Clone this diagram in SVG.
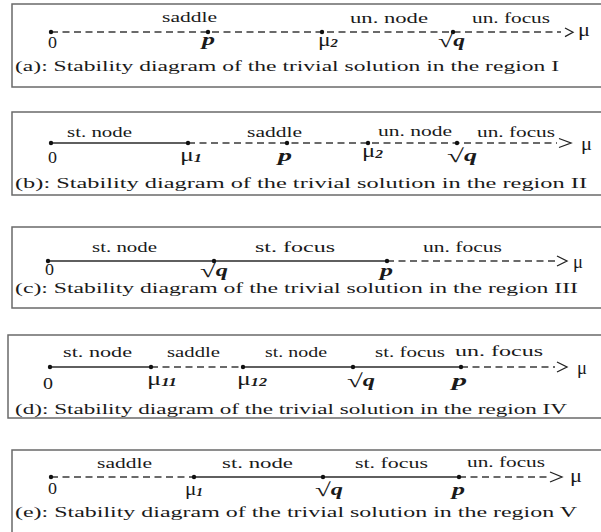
<svg xmlns="http://www.w3.org/2000/svg" width="601" height="532" viewBox="0 0 601 532">
<style>
.bg{fill:#fff}
.box{fill:none;stroke:#6a6a6a;stroke-width:1.5}
.sol{stroke:#2a2a2a;stroke-width:1.4;fill:none}
.dsh{stroke:#3a3a3a;stroke-width:1.4;stroke-dasharray:7 4.5;fill:none}
.arr{stroke:#222;stroke-width:1.3;fill:none}
.dot{fill:#111}
text{font-family:"Liberation Serif","Times New Roman",serif;fill:#1a1a1a}
.lb{font-size:14px}
.pt{font-size:16px}
.mu{font-size:19px}
.cap{font-size:15px}
.bi{font-weight:bold;font-style:italic;font-size:16px}
.sub{font-size:12px;font-weight:bold;font-style:italic}
.rad{font-size:19px}
.ax{font-size:18px}
</style>
<rect class="bg" x="0" y="0" width="601" height="532"/>

<g id="connectors">
  <path class="dsh" d="M51 32H561"/>
  <path class="arr" d="M565 28L573 32.3L565 36.6"/>
  <path class="sol" d="M51 143H188"/>
  <path class="dsh" d="M188 143H557"/>
  <path class="arr" d="M559 138.5L571 143L559 147.5"/>
  <path class="sol" d="M48 261H387"/>
  <path class="dsh" d="M387 261H556"/>
  <path class="arr" d="M557 256L567 261L557 266"/>
  <path class="sol" d="M50 367H151"/>
  <path class="dsh" d="M151 367H243"/>
  <path class="sol" d="M243 367H461"/>
  <path class="dsh" d="M461 367H555"/>
  <path class="arr" d="M557 362L567 367L557 372"/>
  <path class="dsh" d="M51 477H194"/>
  <path class="sol" d="M194 477H459"/>
  <path class="dsh" d="M459 477H548"/>
  <path class="arr" d="M550 472L562 477L550 482"/>
</g>

<g id="panel-a">
  <rect class="box" x="12" y="4" width="600" height="83"/>
  <text class="lb" x="162" y="22" textLength="55" lengthAdjust="spacingAndGlyphs">saddle</text>
  <text class="lb" x="350" y="22.5" textLength="78" lengthAdjust="spacingAndGlyphs">un. node</text>
  <text class="lb" x="472" y="22.5" textLength="78" lengthAdjust="spacingAndGlyphs">un. focus</text>
  <g id="a-0"><circle class="dot" cx="51" cy="32" r="2.2"/><text class="pt" x="48" y="48" textLength="9" lengthAdjust="spacingAndGlyphs">0</text></g>
  <g id="a-p"><circle class="dot" cx="208" cy="32" r="2.2"/><text class="bi" x="202" y="45" textLength="13" lengthAdjust="spacingAndGlyphs">p</text></g>
  <g id="a-mu2"><circle class="dot" cx="322" cy="32" r="2.2"/><text class="mu" x="318" y="46" textLength="20" lengthAdjust="spacingAndGlyphs">μ<tspan class="sub" dy="1">2</tspan></text></g>
  <g id="a-sqrtq"><circle class="dot" cx="453" cy="32" r="2.2"/><text class="rad" x="438" y="47" textLength="27" lengthAdjust="spacingAndGlyphs">√<tspan class="bi" dy="-1">q</tspan></text></g>
  <text class="ax" x="578" y="36" textLength="12" lengthAdjust="spacingAndGlyphs">μ</text>
  <text class="cap" x="15" y="71" textLength="544" lengthAdjust="spacingAndGlyphs">(a): Stability diagram of the trivial solution in the region I</text>
</g>

<g id="panel-b">
  <rect class="box" x="12" y="112" width="600" height="83"/>
  <text class="lb" x="67" y="137" textLength="65" lengthAdjust="spacingAndGlyphs">st. node</text>
  <text class="lb" x="247" y="137" textLength="55" lengthAdjust="spacingAndGlyphs">saddle</text>
  <text class="lb" x="378" y="135.5" textLength="74" lengthAdjust="spacingAndGlyphs">un. node</text>
  <text class="lb" x="477" y="136.5" textLength="78" lengthAdjust="spacingAndGlyphs">un. focus</text>
  <g id="b-0"><circle class="dot" cx="51" cy="143" r="2.2"/><text class="pt" x="48" y="163" textLength="9" lengthAdjust="spacingAndGlyphs">0</text></g>
  <g id="b-mu1"><circle class="dot" cx="188" cy="143" r="2.2"/><text class="mu" x="180" y="161" textLength="22" lengthAdjust="spacingAndGlyphs">μ<tspan class="sub" dy="1">1</tspan></text></g>
  <g id="b-p"><circle class="dot" cx="287" cy="143" r="2.2"/><text class="bi" x="278" y="161" textLength="14" lengthAdjust="spacingAndGlyphs">p</text></g>
  <g id="b-mu2"><circle class="dot" cx="368" cy="143" r="2.2"/><text class="mu" x="362" y="157" textLength="21" lengthAdjust="spacingAndGlyphs">μ<tspan class="sub" dy="1">2</tspan></text></g>
  <g id="b-sqrtq"><circle class="dot" cx="457" cy="143" r="2.2"/><text class="rad" x="447" y="162" textLength="30" lengthAdjust="spacingAndGlyphs">√<tspan class="bi" dy="-1">q</tspan></text></g>
  <text class="ax" x="581" y="150" textLength="11" lengthAdjust="spacingAndGlyphs">μ</text>
  <text class="cap" x="15" y="188" textLength="572" lengthAdjust="spacingAndGlyphs">(b): Stability diagram of the trivial solution in the region II</text>
</g>

<g id="panel-c">
  <rect class="box" x="12" y="227" width="600" height="81"/>
  <text class="lb" x="92" y="252" textLength="65" lengthAdjust="spacingAndGlyphs">st. node</text>
  <text class="lb" x="255" y="252" textLength="80" lengthAdjust="spacingAndGlyphs">st. focus</text>
  <text class="lb" x="423" y="252" textLength="79" lengthAdjust="spacingAndGlyphs">un. focus</text>
  <g id="c-0"><circle class="dot" cx="48" cy="261" r="2.2"/><text class="pt" x="45" y="275" textLength="9" lengthAdjust="spacingAndGlyphs">0</text></g>
  <g id="c-sqrtq"><circle class="dot" cx="214" cy="261" r="2.2"/><text class="rad" x="200" y="277" textLength="28" lengthAdjust="spacingAndGlyphs">√<tspan class="bi" dy="-1">q</tspan></text></g>
  <g id="c-p"><circle class="dot" cx="387" cy="261" r="2.2"/><text class="bi" x="380" y="276" textLength="13" lengthAdjust="spacingAndGlyphs">p</text></g>
  <text class="ax" x="573" y="268" textLength="10" lengthAdjust="spacingAndGlyphs">μ</text>
  <text class="cap" x="15" y="293" textLength="563" lengthAdjust="spacingAndGlyphs">(c): Stability diagram of the trivial solution in the region III</text>
</g>

<g id="panel-d">
  <rect class="box" x="8" y="335" width="600" height="83"/>
  <text class="lb" x="63" y="357" textLength="69" lengthAdjust="spacingAndGlyphs">st. node</text>
  <text class="lb" x="167" y="357" textLength="53" lengthAdjust="spacingAndGlyphs">saddle</text>
  <text class="lb" x="265" y="357" textLength="62" lengthAdjust="spacingAndGlyphs">st. node</text>
  <text class="lb" x="375" y="357" textLength="70" lengthAdjust="spacingAndGlyphs">st. focus</text>
  <text class="lb" x="455" y="356" textLength="88" lengthAdjust="spacingAndGlyphs">un. focus</text>
  <g id="d-0"><circle class="dot" cx="50" cy="367" r="2.2"/><text class="pt" x="43" y="389" textLength="10" lengthAdjust="spacingAndGlyphs">0</text></g>
  <g id="d-mu11"><circle class="dot" cx="151" cy="367" r="2.2"/><text class="mu" x="147" y="385" textLength="30" lengthAdjust="spacingAndGlyphs">μ<tspan class="sub" dy="1">11</tspan></text></g>
  <g id="d-mu12"><circle class="dot" cx="243" cy="367" r="2.2"/><text class="mu" x="237" y="385" textLength="30" lengthAdjust="spacingAndGlyphs">μ<tspan class="sub" dy="1">12</tspan></text></g>
  <g id="d-sqrtq"><circle class="dot" cx="353" cy="367" r="2.2"/><text class="rad" x="347" y="387" textLength="28" lengthAdjust="spacingAndGlyphs">√<tspan class="bi" dy="-1">q</tspan></text></g>
  <g id="d-p"><circle class="dot" cx="461" cy="367" r="2.2"/><text class="bi" x="452" y="386" textLength="15" lengthAdjust="spacingAndGlyphs">p</text></g>
  <text class="ax" x="577" y="374" textLength="10" lengthAdjust="spacingAndGlyphs">μ</text>
  <text class="cap" x="15" y="414" textLength="552" lengthAdjust="spacingAndGlyphs">(d): Stability diagram of the trivial solution in the region IV</text>
</g>

<g id="panel-e">
  <rect class="box" x="12" y="450" width="600" height="100"/>
  <text class="lb" x="97" y="468" textLength="55" lengthAdjust="spacingAndGlyphs">saddle</text>
  <text class="lb" x="222" y="468" textLength="71" lengthAdjust="spacingAndGlyphs">st. node</text>
  <text class="lb" x="355" y="468" textLength="73" lengthAdjust="spacingAndGlyphs">st. focus</text>
  <text class="lb" x="467" y="466.5" textLength="78" lengthAdjust="spacingAndGlyphs">un. focus</text>
  <g id="e-0"><circle class="dot" cx="51" cy="477" r="2.2"/><text class="pt" x="48" y="494" textLength="9" lengthAdjust="spacingAndGlyphs">0</text></g>
  <g id="e-mu1"><circle class="dot" cx="194" cy="477" r="2.2"/><text class="mu" x="185" y="495" textLength="18" lengthAdjust="spacingAndGlyphs">μ<tspan class="sub" dy="1">1</tspan></text></g>
  <g id="e-sqrtq"><circle class="dot" cx="323" cy="477" r="2.2"/><text class="rad" x="315" y="496" textLength="28" lengthAdjust="spacingAndGlyphs">√<tspan class="bi" dy="-1">q</tspan></text></g>
  <g id="e-p"><circle class="dot" cx="459" cy="477" r="2.2"/><text class="bi" x="452" y="495" textLength="13" lengthAdjust="spacingAndGlyphs">p</text></g>
  <text class="ax" x="570" y="482" textLength="12" lengthAdjust="spacingAndGlyphs">μ</text>
  <text class="cap" x="15" y="517" textLength="562" lengthAdjust="spacingAndGlyphs">(e): Stability diagram of the trivial solution in the region V</text>
</g>
</svg>
